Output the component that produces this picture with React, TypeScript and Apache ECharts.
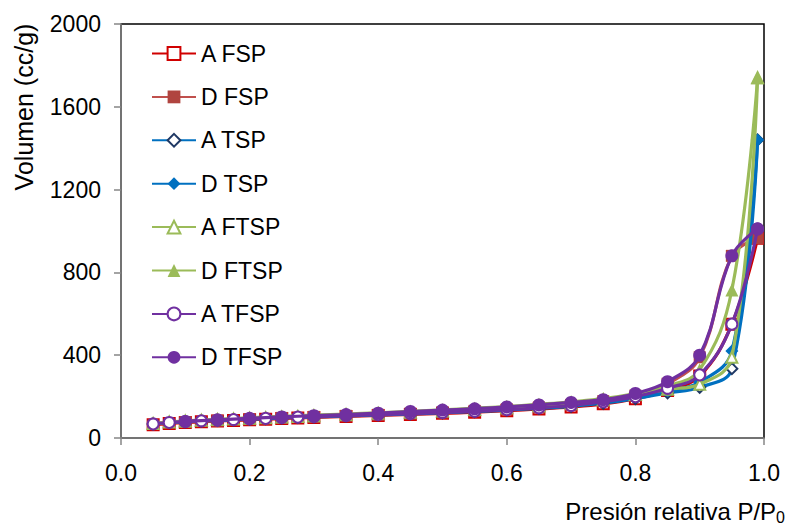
import React, { useEffect, useRef } from "react";
import * as echarts from "echarts";

const pAds = [0.05, 0.075, 0.1, 0.125, 0.15, 0.175, 0.2, 0.225, 0.25, 0.275, 0.3, 0.35, 0.4, 0.45, 0.5, 0.55, 0.6, 0.65, 0.7, 0.75, 0.8, 0.85, 0.9, 0.95, 0.99];
const pDes = [0.99, 0.95, 0.9, 0.85, 0.8, 0.75, 0.7, 0.65, 0.6, 0.55, 0.5, 0.45, 0.4, 0.35, 0.3, 0.25, 0.2, 0.15, 0.1];

const aFSP = [64, 70, 75, 79, 82, 85, 88, 91, 94, 97, 99, 104, 109, 114, 119, 125, 132, 140, 150, 165, 190, 230, 300, 550, 965];
const dFSP = [965, 880, 390, 262, 205, 178, 160, 148, 139, 131, 124, 118, 112, 107, 102, 97, 91, 84, 77];
const aTSP = [68, 74, 78, 82, 85, 88, 91, 94, 97, 100, 102, 107, 112, 117, 122, 128, 135, 143, 153, 168, 190, 218, 245, 335, 1440];
const dTSP = [1440, 420, 270, 228, 200, 180, 165, 153, 143, 135, 128, 121, 115, 110, 105, 100, 94, 87, 80];
const aFTSP = [70, 77, 82, 86, 89, 92, 95, 98, 101, 104, 107, 113, 119, 125, 131, 138, 146, 156, 168, 185, 210, 235, 260, 390, 1740];
const dFTSP = [1740, 715, 330, 250, 215, 190, 175, 163, 152, 144, 136, 129, 122, 116, 111, 105, 98, 90, 83];
const aTFSP = [68, 75, 79, 83, 86, 89, 92, 95, 98, 101, 103, 108, 113, 118, 123, 129, 137, 146, 157, 175, 200, 240, 305, 550, 1010];
const dTFSP = [1010, 880, 400, 272, 215, 185, 172, 160, 150, 141, 135, 128, 120, 113, 108, 102, 95, 88, 80];

const seriesNames = ["A FSP", "D FSP", "A TSP", "D TSP", "A FTSP", "D FTSP", "A TFSP", "D TFSP"];
const yTicks = [0, 400, 800, 1200, 1600, 2000];

const FONT = "'Liberation Sans', Arial, sans-serif";

function pairs(xs: number[], ys: number[]) {
  return xs.map((x, i) => [x, ys[i]]);
}

export default function App() {
  const ref = useRef<HTMLDivElement>(null);
  useEffect(() => {
    if (!ref.current) return;
    const chart = echarts.init(ref.current, null, { renderer: "svg" });

    const defs = [
      { data: pairs(pAds, aFSP), line: "#D00000", symbol: "emptyRect", mcolor: "#D00000", size: 11 },
      { data: pairs(pDes, dFSP), line: "#C0504D", symbol: "rect", mcolor: "#B0443F", size: 12 },
      { data: pairs(pAds, aTSP), line: "#0070C0", symbol: "emptyDiamond", mcolor: "#1F3864", size: 11 },
      { data: pairs(pDes, dTSP), line: "#0070C0", symbol: "diamond", mcolor: "#0070C0", size: 13 },
      { data: pairs(pAds, aFTSP), line: "#9BBB59", symbol: "emptyTriangle", mcolor: "#9BBB59", size: 11 },
      { data: pairs(pDes, dFTSP), line: "#9BBB59", symbol: "triangle", mcolor: "#9BBB59", size: 13 },
      { data: pairs(pAds, aTFSP), line: "#7030A0", symbol: "emptyCircle", mcolor: "#7030A0", size: 11 },
      { data: pairs(pDes, dTFSP), line: "#7030A0", symbol: "circle", mcolor: "#7030A0", size: 13 },
    ];

    chart.setOption({
      animation: false,
      backgroundColor: "#fff",
      textStyle: { fontFamily: FONT },
      grid: {
        left: 121,
        right: 23,
        top: 24,
        bottom: 87,
        show: true,
        borderColor: "#000",
        borderWidth: 1.5,
        backgroundColor: "transparent",
      },
      legend: {
        orient: "vertical",
        left: 146,
        top: 37,
        itemWidth: 44,
        itemHeight: 16,
        itemGap: 20.4,
        selectedMode: false,
        data: seriesNames,
        textStyle: { fontSize: 23, color: "#000", fontFamily: FONT, lineHeight: 23 },
      },
      xAxis: {
        type: "value",
        min: 0,
        max: 1,
        interval: 0.2,
        axisLine: { onZero: false, lineStyle: { color: "#868686", width: 1.5 } },
        axisTick: { show: true, inside: false, length: 7, lineStyle: { color: "#868686", width: 1.5 } },
        splitLine: { show: false },
        axisLabel: {
          color: "#000",
          fontSize: 23,
          fontFamily: FONT,
          margin: 23,
          formatter: (v: number) => v.toFixed(1),
        },
      },
      yAxis: {
        type: "value",
        min: yTicks[0],
        max: yTicks[yTicks.length - 1],
        interval: 400,
        axisLine: { show: true, lineStyle: { color: "#868686", width: 1.5 } },
        axisTick: { show: true, inside: false, length: 7, lineStyle: { color: "#868686", width: 1.5 } },
        splitLine: { show: false },
        axisLabel: { color: "#000", fontSize: 23, fontFamily: FONT, margin: 20, formatter: (v: number) => String(v) },
      },
      graphic: [
        {
          type: "text",
          x: 24,
          y: 107,
          rotation: Math.PI / 2,
          style: {
            text: "Volumen (cc/g)",
            fontSize: 25,
            fontFamily: FONT,
            fill: "#000",
            align: "center",
            verticalAlign: "middle",
          },
        },
        {
          type: "text",
          x: 785,
          y: 511,
          style: {
            text: "Presión relativa P/P{sub|0}",
            fontSize: 24,
            fontFamily: FONT,
            fill: "#000",
            align: "right",
            verticalAlign: "middle",
            rich: {
              sub: { fontSize: 16, fontFamily: FONT, fill: "#000", padding: [12, 0, 0, 0] },
            },
          },
        },
      ],
      series: defs.map((d, i) => ({
        name: seriesNames[i],
        type: "line",
        data: d.data,
        smooth: 0.4,
        symbol: d.symbol,
        symbolSize: d.size,
        showSymbol: true,
        lineStyle: { color: d.line, width: 3.2 },
        itemStyle: { color: d.mcolor, borderColor: d.mcolor, borderWidth: d.symbol.startsWith("empty") ? 1.5 : 0 },
        emphasis: { disabled: true },
        z: 2 + i,
      })),
    });
    return () => chart.dispose();
  }, []);
  return <div ref={ref} style={{ width: 787, height: 525, position: "absolute", left: 0, top: 0 }} />;
}
